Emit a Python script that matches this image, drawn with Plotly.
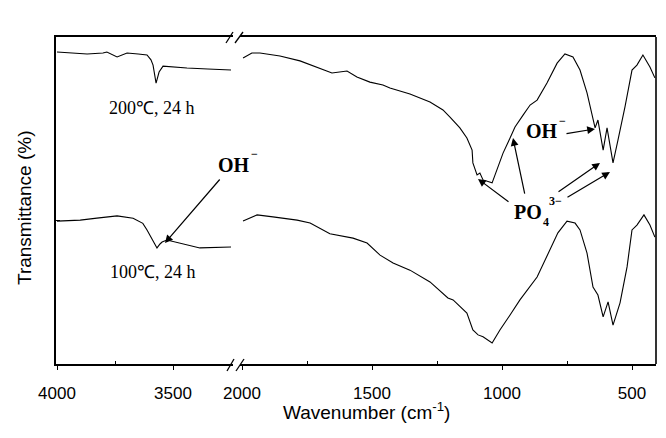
import plotly.graph_objects as go

# FTIR spectra of the two hydrothermal samples (transmittance, arbitrary offset scale)
# High-wavenumber window (O-H stretch region)
wn_200_hi = [4000, 3870, 3802, 3785, 3741, 3698, 3650, 3612, 3595, 3586, 3573, 3560, 3543, 3500, 3440, 3350, 3250]
t_200_hi = [95.4, 94.8, 95.1, 95.4, 93.9, 95.1, 94.8, 94.5, 93.0, 91.4, 85.9, 89.3, 91.1, 90.8, 90.5, 90.2, 89.9]

wn_100_hi = [4000, 3900, 3828, 3741, 3672, 3630, 3612, 3586, 3569, 3556, 3547, 3526, 3470, 3384, 3250]
t_100_hi = [43.7, 44.0, 44.6, 45.3, 44.6, 43.0, 41.0, 37.9, 35.5, 36.7, 37.3, 37.9, 37.0, 35.5, 35.8]

# Low-wavenumber window (phosphate and librational bands)
wn_200_lo = [1996, 1962, 1931, 1854, 1777, 1712, 1654, 1596, 1558, 1508, 1458, 1431, 1354, 1277,
             1227, 1200, 1162, 1135, 1115, 1112, 1096, 1085, 1073, 1038, 1019, 996, 969, 950, 919,
             892, 865, 827, 788, 758, 727, 700, 673, 654, 642, 631, 611, 596, 573, 554, 527, 500,
             481, 458, 431, 412]
t_200_lo = [93.6, 95.1, 95.1, 94.2, 92.7, 90.8, 89.0, 89.6, 87.8, 86.2, 85.3, 84.4, 82.6, 80.1,
            77.7, 75.5, 72.2, 69.1, 65.4, 61.5, 57.8, 58.4, 56.3, 55.4, 59.3, 64.5, 69.1, 72.5, 76.1,
            79.2, 80.7, 85.9, 92.0, 94.8, 93.9, 89.9, 82.9, 76.8, 72.2, 74.6, 65.4, 72.2, 61.5, 68.5,
            78.6, 89.9, 91.4, 94.5, 90.8, 87.5]

wn_100_lo = [1996, 1942, 1881, 1788, 1738, 1662, 1573, 1519, 1469, 1419, 1354, 1277, 1208, 1188,
             1135, 1112, 1092, 1073, 1038, 1008, 969, 931, 865, 815, 785, 750, 719, 700, 673, 650,
             631, 611, 592, 573, 546, 519, 500, 481, 454, 431, 412]
t_100_lo = [43.7, 45.6, 45.0, 44.0, 43.1, 39.8, 38.5, 37.0, 33.3, 30.9, 28.7, 25.1, 20.2, 19.6,
            15.6, 10.4, 8.9, 8.3, 6.4, 10.4, 15.0, 19.6, 26.6, 34.9, 40.1, 43.7, 43.1, 41.0, 33.9,
            23.5, 21.1, 14.4, 19.0, 11.9, 18.7, 29.7, 41.0, 42.5, 45.6, 42.5, 38.8]

hi_ticks = [4000, 3500]
lo_ticks = [2000, 1500, 1000, 500]

# Figure geometry (pixels) used to place the frame and labels
W, H = 666, 438
ML, MR, MT, MB = 56, 10, 37, 74
PW, PH = W - ML - MR, H - MT - MB


def px(xp):
    return (xp - ML) / PW


def py(yp):
    return (H - MB - yp) / PH


LINE = dict(color="black", width=1.1)
fig = go.Figure()
fig.add_trace(go.Scatter(x=wn_200_hi, y=t_200_hi, mode="lines", line=LINE, xaxis="x", yaxis="y"))
fig.add_trace(go.Scatter(x=wn_100_hi, y=t_100_hi, mode="lines", line=LINE, xaxis="x", yaxis="y"))
fig.add_trace(go.Scatter(x=wn_200_lo, y=t_200_lo, mode="lines", line=LINE, xaxis="x2", yaxis="y"))
fig.add_trace(go.Scatter(x=wn_100_lo, y=t_100_lo, mode="lines", line=LINE, xaxis="x2", yaxis="y"))

tickfont = dict(family="Liberation Sans, Arial, sans-serif", size=17, color="black")
axis_common = dict(showline=True, linecolor="black", linewidth=1.6, mirror=True,
                   ticks="outside", ticklen=4, tickwidth=1.2, tickcolor="black",
                   ticklabelstandoff=9,
                   showgrid=False, zeroline=False, tickfont=tickfont)

# Left panel: 4000 -> ~3240 cm-1, right panel: ~2008 -> ~408 cm-1
fig.update_layout(
    width=W, height=H,
    margin=dict(l=ML, r=MR, t=MT, b=MB),
    paper_bgcolor="white", plot_bgcolor="white",
    showlegend=False,
    xaxis=dict(domain=[0, px(233)], range=[4004.3, 3241.4], tickvals=hi_ticks,
               minor=dict(tickvals=[3750], ticks="inside", ticklen=3, tickcolor="black"),
               anchor="y", **axis_common),
    xaxis2=dict(domain=[px(240), 1], range=[2007.7, 407.7], tickvals=lo_ticks,
                minor=dict(tickvals=[1750, 1250, 750], ticks="inside", ticklen=3, tickcolor="black"),
                anchor="y", **axis_common),
    yaxis=dict(range=[0, 100], showline=True, linecolor="black", linewidth=1.6,
               ticks="inside", ticklen=4, tickcolor="black", tickvals=[44], showticklabels=False,
               showgrid=False, zeroline=False, anchor="x"),
)

# Right frame edge and axis-break marks
shapes = [dict(type="line", xref="paper", yref="paper", x0=1, x1=1, y0=0, y1=1,
               line=dict(color="black", width=1.6))]
for (x0, y0, x1, y1) in [(227, 371, 234, 359), (236, 371, 244, 359),
                         (226, 43, 233, 32), (235, 43, 243, 32)]:
    shapes.append(dict(type="line", xref="paper", yref="paper",
                       x0=px(x0), y0=py(y0), x1=px(x1), y1=py(y1),
                       line=dict(color="black", width=1.3)))
fig.update_layout(shapes=shapes)

serif = "Liberation Serif, Times New Roman, serif"
sans = "Liberation Sans, Arial, sans-serif"


def label(text, xp, yp, font, xanchor="center", **kw):
    return dict(text=text, xref="paper", yref="paper", x=px(xp), y=py(yp),
                xanchor=xanchor, yanchor="middle", showarrow=False, font=font, **kw)


ann = []
# Axis titles
ann.append(label("Wavenumber (cm<sup>-1</sup>)", 366, 411, dict(family=sans, size=19, color="black")))
ann.append(label("Transmittance (%)", 24, 208, dict(family=sans, size=19, color="black"), textangle=-90))
# Sample labels
ann.append(label("200℃, 24 h", 152, 108, dict(family=serif, size=18, color="black")))
ann.append(label("100℃, 24 h", 153, 272, dict(family=serif, size=18, color="black")))
# Band labels
bold = dict(family=serif, size=20, color="black")
small = dict(family=serif, size=12, color="black")
ann.append(label("<b>OH</b>", 216, 165, bold, xanchor="left"))
ann.append(label("<b>−</b>", 249, 154, small, xanchor="left"))
ann.append(label("<b>OH</b>", 524, 131, bold, xanchor="left"))
ann.append(label("<b>−</b>", 557, 121, small, xanchor="left"))
ann.append(label("<b>PO</b>", 512, 212, bold, xanchor="left"))
ann.append(label("<b>4</b>", 541, 222, small, xanchor="left"))
ann.append(label("<b>3−</b>", 547, 201, small, xanchor="left"))

# Arrows: tip at the band (data coords), tail offset in pixels
arrows = [
    ("x", 3534.5, 37.0, 56, -65),   # O-H stretch, 100 C sample
    ("x2", 642.3, 71.9, -30, 5),    # O-H libration
    ("x2", 1092.3, 56.6, 32, 24),   # PO4 v3
    ("x2", 957.7, 69.1, 12, 57),    # PO4 v1
    ("x2", 623.0, 61.5, -43, 30),   # PO4 v4
    ("x2", 584.7, 58.7, -44, 26),   # PO4 v4
]
for xr, xv, yv, axp, ayp in arrows:
    ann.append(dict(text="", xref=xr, yref="y", x=xv, y=yv, ax=axp, ay=ayp,
                    showarrow=True, arrowhead=2, arrowsize=1.3, arrowwidth=1.2,
                    arrowcolor="black"))
fig.update_layout(annotations=ann)

fig.write_html("out.html")
